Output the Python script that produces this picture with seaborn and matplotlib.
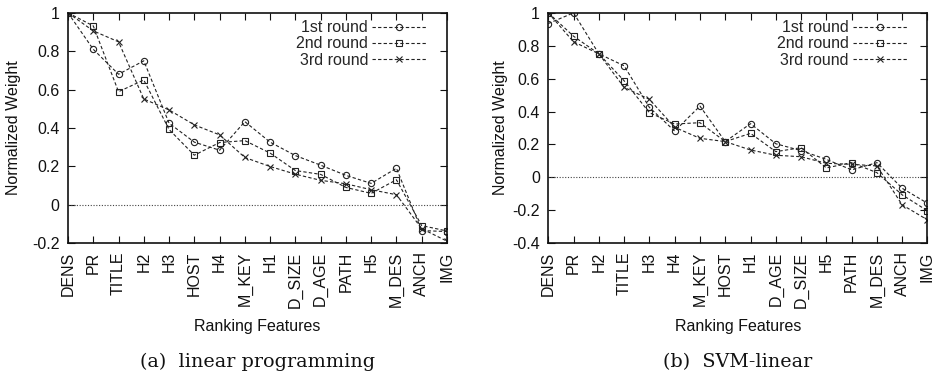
import matplotlib
matplotlib.use("Agg")
import matplotlib.pyplot as plt
import pandas as pd
import seaborn as sns

sns.set_style("ticks")
plt.rcParams["font.family"] = ["Liberation Sans", "DejaVu Sans"]
plt.rcParams["axes.unicode_minus"] = False

ROUNDS = ["1st round", "2nd round", "3rd round"]
MARKERS = ["o", "s", "x"]

# (a) linear programming
LP_FEATURES = ["DENS", "PR", "TITLE", "H2", "H3", "HOST", "H4", "M_KEY",
               "H1", "D_SIZE", "D_AGE", "PATH", "H5", "M_DES", "ANCH", "IMG"]
LP_R1 = [1.0, 0.81, 0.68, 0.75, 0.425, 0.326, 0.284, 0.433,
         0.326, 0.256, 0.206, 0.153, 0.111, 0.19, -0.135, -0.14]
LP_R2 = [1.0, 0.932, 0.589, 0.65, 0.392, 0.258, 0.324, 0.334,
         0.269, 0.178, 0.158, 0.09, 0.059, 0.13, -0.109, -0.137]
LP_R3 = [1.0, 0.906, 0.849, 0.551, 0.494, 0.416, 0.364, 0.246,
         0.199, 0.159, 0.127, 0.109, 0.078, 0.052, -0.125, -0.19]
LP_YTICKS = [-0.2, 0, 0.2, 0.4, 0.6, 0.8, 1]

# (b) SVM-linear
SVM_FEATURES = ["DENS", "PR", "H2", "TITLE", "H3", "H4", "M_KEY", "HOST",
                "H1", "D_AGE", "D_SIZE", "H5", "PATH", "M_DES", "ANCH", "IMG"]
SVM_R1 = [0.935, 1.0, 0.751, 0.678, 0.425, 0.281, 0.433, 0.217,
          0.326, 0.204, 0.162, 0.109, 0.045, 0.089, -0.067, -0.158]
SVM_R2 = [1.0, 0.858, 0.751, 0.587, 0.393, 0.324, 0.332, 0.217,
          0.267, 0.156, 0.18, 0.057, 0.089, 0.028, -0.107, -0.204]
SVM_R3 = [1.0, 0.824, 0.751, 0.547, 0.474, 0.304, 0.237, 0.217,
          0.166, 0.134, 0.125, 0.085, 0.079, 0.069, -0.168, -0.259]
SVM_YTICKS = [-0.4, -0.2, 0, 0.2, 0.4, 0.6, 0.8, 1]


def tick_text(v):
    return "%g" % v


def draw_panel(ax, features, series, yticks, caption, ylabel_x):
    for name, values, marker in zip(ROUNDS, series, MARKERS):
        df = pd.DataFrame({"feature": features, "weight": values})
        sns.lineplot(
            data=df, x="feature", y="weight", ax=ax, sort=False,
            color="#222222", linewidth=0.8, linestyle=(0, (3, 2)),
            marker=marker, markersize=4.5, markeredgewidth=0.8,
            markeredgecolor="#222222", markerfacecolor="none",
            label=name, legend=False,
        )
    lines = ax.get_lines()[:3]
    ax.axhline(0, color="#444444", linewidth=0.8, linestyle=(0, (1, 1.5)))

    ax.set_xlim(0, len(features) - 1)
    ax.set_ylim(yticks[0], yticks[-1])
    ax.set_xticks(range(len(features)))
    ax.set_xticklabels(features, rotation=90)
    ax.set_yticks(yticks)
    ax.set_yticklabels([tick_text(v) for v in yticks])
    ax.tick_params(direction="in", top=True, right=True, length=5,
                   width=0.8, labelsize=11.5, colors="#111111", pad=6)
    for s in ax.spines.values():
        s.set_linewidth(1.2)
        s.set_color("#111111")

    ax.set_xlabel("Ranking Features", fontsize=11.5, color="#111111")
    ax.set_ylabel("Normalized Weight", fontsize=11.5, color="#111111")
    ax.xaxis.set_label_coords(0.5, -0.33)
    ax.yaxis.set_label_coords(ylabel_x, 0.5)

    ax.legend(handles=lines, labels=ROUNDS, loc="upper right",
              bbox_to_anchor=(0.946, 0.968), frameon=False, markerfirst=False,
              handlelength=3.4, handletextpad=0.25, labelspacing=0.08,
              borderpad=0, borderaxespad=0, fontsize=11.5)

    ax.text(0.5, -0.515, caption, transform=ax.transAxes, ha="center",
            va="center", fontsize=13.8, family=["DejaVu Serif"], color="#111111")


fig = plt.figure(figsize=(9.38, 3.78), dpi=100)
ax1 = fig.add_axes([0.0725, 0.357, 0.404, 0.609])
ax2 = fig.add_axes([0.5845, 0.357, 0.4043, 0.609])

draw_panel(ax1, LP_FEATURES, [LP_R1, LP_R2, LP_R3], LP_YTICKS,
           "(a)  linear programming", -0.124)
draw_panel(ax2, SVM_FEATURES, [SVM_R1, SVM_R2, SVM_R3], SVM_YTICKS,
           "(b)  SVM-linear", -0.106)

fig.savefig("out.png", dpi=100)
